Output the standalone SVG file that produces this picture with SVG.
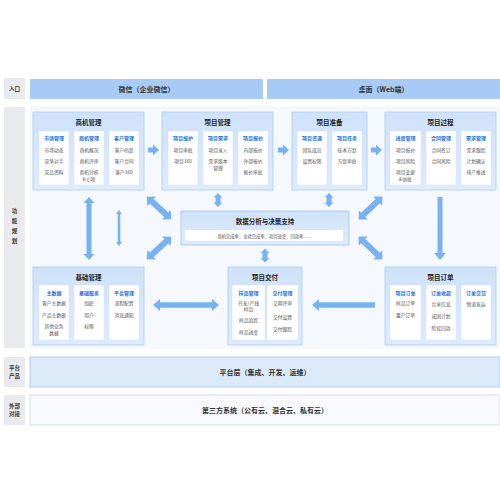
<svg xmlns="http://www.w3.org/2000/svg" width="500" height="500" viewBox="0 0 500 500">
<style>
text{font-family:"Noto Sans CJK SC","Noto Sans",sans-serif;text-anchor:middle}
.lab{fill:#e8eaed}
.labt{font-size:5.5px;fill:#333;font-weight:bold}
.bar{fill:#a7cbf5}
.bart{font-size:7px;fill:#333;font-weight:bold}
.mod{fill:url(#mg);stroke:#a9cdf4;stroke-width:0.8}
.col{fill:#fff;stroke:#d3e4f8;stroke-width:0.5}
.mt{font-size:6.5px;fill:#222;font-weight:bold}
.h{font-size:5px;fill:#1a6fe0;font-weight:bold}
.i{font-size:4.8px;fill:#555}
.arr{fill:#78b2f3}
</style>
<defs>
<linearGradient id="mg" x1="0" y1="0" x2="0" y2="1">
<stop offset="0" stop-color="#cfe2f9"/>
<stop offset="1" stop-color="#dfebfb"/>
</linearGradient>
</defs>
<rect width="500" height="500" fill="#fff"/>

<g id="entry">
<rect class="lab" x="4" y="78" width="21" height="21"/>
<text class="labt" x="14.5" y="90.5">入口</text>
<rect class="bar" x="30" y="79" width="233" height="20"/>
<text class="bart" x="146.5" y="91.5">微信（企业微信）</text>
<rect class="bar" x="267" y="79" width="233" height="20"/>
<text class="bart" x="383.5" y="91.5">桌面（Web端）</text>
</g>

<g id="func-area">
<rect class="lab" x="4" y="107" width="21" height="241"/>
<text class="labt" x="14.5" y="213">功</text>
<text class="labt" x="14.5" y="223">能</text>
<text class="labt" x="14.5" y="233">规</text>
<text class="labt" x="14.5" y="243">划</text>
<rect x="30" y="107" width="470" height="241" fill="#f5f8fd" stroke="#e8eef7" stroke-width="0.5"/>
</g>

<g id="m-shangji">
<rect class="mod" x="33" y="112" width="111" height="78"/>
<text class="mt" x="88.5" y="125">商机管理</text>
<rect class="col" x="39" y="131" width="30" height="54"/>
<rect class="col" x="74" y="131" width="30" height="54"/>
<rect class="col" x="109" y="131" width="30" height="54"/>
<text class="h" x="54" y="140">市场管理</text>
<text class="i" x="54" y="152">市场动态</text>
<text class="i" x="54" y="163">竞争对手</text>
<text class="i" x="54" y="174">竞品资料</text>
<text class="h" x="89" y="140">商机管理</text>
<text class="i" x="89" y="152">商机概况</text>
<text class="i" x="89" y="163">商机评审</text>
<text class="i" x="89" y="174">商机分析</text>
<text class="i" x="89" y="181">&amp;立项</text>
<text class="h" x="124" y="140">客户管理</text>
<text class="i" x="124" y="152">客户档案</text>
<text class="i" x="124" y="163">客户合同</text>
<text class="i" x="124" y="174">客户360</text>
</g>

<g id="m-xiangmu">
<rect class="mod" x="162" y="112" width="111" height="78"/>
<text class="mt" x="217.5" y="125">项目管理</text>
<rect class="col" x="168" y="131" width="30" height="54"/>
<rect class="col" x="203" y="131" width="30" height="54"/>
<rect class="col" x="238" y="131" width="30" height="54"/>
<text class="h" x="183" y="140">项目维护</text>
<text class="i" x="183" y="152">项目审批</text>
<text class="i" x="183" y="163">项目360</text>
<text class="h" x="218" y="140">项目需求</text>
<text class="i" x="218" y="152">项目录入</text>
<text class="i" x="218" y="163">需求版本</text>
<text class="i" x="218" y="170">管理</text>
<text class="h" x="253" y="140">项目报价</text>
<text class="i" x="253" y="152">内部报价</text>
<text class="i" x="253" y="163">外部报价</text>
<text class="i" x="253" y="174">报价审批</text>
</g>

<g id="m-zhunbei">
<rect class="mod" x="292" y="112" width="75" height="78"/>
<text class="mt" x="329.5" y="125">项目准备</text>
<rect class="col" x="297" y="131" width="30" height="54"/>
<rect class="col" x="332" y="131" width="30" height="54"/>
<text class="h" x="312" y="140">项目资源</text>
<text class="i" x="312" y="152">团队成员</text>
<text class="i" x="312" y="163">设置权限</text>
<text class="h" x="347" y="140">项目任务</text>
<text class="i" x="347" y="152">技术方案</text>
<text class="i" x="347" y="163">方案审批</text>
</g>

<g id="m-guocheng">
<rect class="mod" x="385" y="112" width="111" height="78"/>
<text class="mt" x="440.5" y="125">项目过程</text>
<rect class="col" x="390" y="131" width="31" height="54"/>
<rect class="col" x="426" y="131" width="30" height="54"/>
<rect class="col" x="461" y="131" width="30" height="54"/>
<text class="h" x="405.5" y="140">进度管理</text>
<text class="i" x="405.5" y="152">项目报价</text>
<text class="i" x="405.5" y="163">项目风险</text>
<text class="i" x="405.5" y="174">项目变更</text>
<text class="i" x="405.5" y="181">&amp;协批</text>
<text class="h" x="441" y="140">合同管理</text>
<text class="i" x="441" y="152">合同签订</text>
<text class="i" x="441" y="163">合同风险</text>
<text class="h" x="476" y="140">需求管理</text>
<text class="i" x="476" y="152">需求跟踪</text>
<text class="i" x="476" y="163">计划确认</text>
<text class="i" x="476" y="174">排产推进</text>
</g>

<g id="m-center">
<rect x="181" y="211" width="168" height="34" fill="url(#mg)" stroke="#9ec6f2" stroke-width="0.8"/>
<text class="mt" x="265" y="224">数据分析与决策支持</text>
<rect x="185" y="230" width="158" height="11" fill="#fff"/>
<text class="i" x="264" y="237.5" style="font-size:4.3px">商机完成率、业绩完成率、项目进度、回款率......</text>
</g>

<g id="m-jichu">
<rect class="mod" x="33" y="267" width="111" height="78"/>
<text class="mt" x="88.5" y="280">基础管理</text>
<rect class="col" x="39" y="285" width="30" height="55"/>
<rect class="col" x="74" y="285" width="30" height="55"/>
<rect class="col" x="109" y="285" width="30" height="55"/>
<text class="h" x="54" y="295">主数据</text>
<text class="i" x="54" y="305">客户主数据</text>
<text class="i" x="54" y="317">产品主数据</text>
<text class="i" x="54" y="328">其他业务</text>
<text class="i" x="54" y="335">数据</text>
<text class="h" x="89" y="295">基础服务</text>
<text class="i" x="89" y="305">组织</text>
<text class="i" x="89" y="317">用户</text>
<text class="i" x="89" y="328">权限</text>
<text class="h" x="124" y="295">平台管理</text>
<text class="i" x="124" y="305">流程配置</text>
<text class="i" x="124" y="317">消息通知</text>
</g>

<g id="m-jiaofu">
<rect class="mod" x="228" y="267" width="74" height="78"/>
<text class="mt" x="265" y="280">项目交付</text>
<rect class="col" x="232" y="285" width="33" height="55"/>
<rect class="col" x="267" y="285" width="31" height="55"/>
<text class="h" x="248.5" y="295">样品管理</text>
<text class="i" x="248.5" y="305">开发/产线</text>
<text class="i" x="248.5" y="311">样品</text>
<text class="i" x="248.5" y="322">样品追踪</text>
<text class="i" x="248.5" y="334">样品进度</text>
<text class="h" x="282.5" y="295">交付管理</text>
<text class="i" x="282.5" y="305">交期评审</text>
<text class="i" x="282.5" y="319">交付设置</text>
<text class="i" x="282.5" y="331">交付跟踪</text>
</g>

<g id="m-dingdan">
<rect class="mod" x="385" y="267" width="111" height="78"/>
<text class="mt" x="440.5" y="280">项目订单</text>
<rect class="col" x="390" y="285" width="31" height="55"/>
<rect class="col" x="426" y="285" width="30" height="55"/>
<rect class="col" x="461" y="285" width="30" height="55"/>
<text class="h" x="405.5" y="295">项目订单</text>
<text class="i" x="405.5" y="305">样品订单</text>
<text class="i" x="405.5" y="317">量产订单</text>
<text class="h" x="441" y="295">订单收款</text>
<text class="i" x="441" y="306">共享信息</text>
<text class="i" x="441" y="318">成团计划</text>
<text class="i" x="441" y="330">阶段回款</text>
<text class="h" x="476" y="295">订单交货</text>
<text class="i" x="476" y="306">物流发运</text>
</g>

<g id="connectors">
<!-- left big vertical double -->
<polygon class="arr" transform="translate(89,228.5) rotate(90)" points="-31.5,0 -25.5,-5.5 -25.5,-2.5 25.5,-2.5 25.5,-5.5 31.5,0 25.5,5.5 25.5,2.5 -25.5,2.5 -25.5,5.5"/>
<!-- thin vertical double -->
<polygon class="arr" transform="translate(119,228) rotate(90)" points="-18,0 -14,-3 -14,-1.3 14,-1.3 14,-3 18,0 14,3 14,1.3 -14,1.3 -14,3"/>
<!-- diagonals -->
<polygon class="arr" transform="translate(159,208) rotate(42.5)" points="-16.5,0 -10,-6.5 -10,-3 10,-3 10,-6.5 16.5,0 10,6.5 10,3 -10,3 -10,6.5"/>
<polygon class="arr" transform="translate(159,248) rotate(-42.5)" points="-16.5,0 -10,-6.5 -10,-3 10,-3 10,-6.5 16.5,0 10,6.5 10,3 -10,3 -10,6.5"/>
<polygon class="arr" transform="translate(370.5,208) rotate(-43.7)" points="-16.5,0 -10,-6.5 -10,-3 10,-3 10,-6.5 16.5,0 10,6.5 10,3 -10,3 -10,6.5"/>
<polygon class="arr" transform="translate(370.5,248) rotate(43.7)" points="-16.5,0 -10,-6.5 -10,-3 10,-3 10,-6.5 16.5,0 10,6.5 10,3 -10,3 -10,6.5"/>
<!-- small verticals -->
<polygon class="arr" transform="translate(218,200) rotate(90)" points="-7,0 -2.5,-4.5 -2.5,-2.5 2.5,-2.5 2.5,-4.5 7,0 2.5,4.5 2.5,2.5 -2.5,2.5 -2.5,4.5"/>
<polygon class="arr" transform="translate(329,200) rotate(90)" points="-7,0 -2.5,-4.5 -2.5,-2.5 2.5,-2.5 2.5,-4.5 7,0 2.5,4.5 2.5,2.5 -2.5,2.5 -2.5,4.5"/>
<polygon class="arr" transform="translate(265,255.5) rotate(90)" points="-7,0 -2.5,-4.5 -2.5,-2.5 2.5,-2.5 2.5,-4.5 7,0 2.5,4.5 2.5,2.5 -2.5,2.5 -2.5,4.5"/>
<!-- right vertical down -->
<polygon class="arr" points="437.5,197 442.5,197 442.5,253 446,253 440,260 434,253 437.5,253"/>
<!-- top row right arrows -->
<polygon class="arr" points="148,147.5 153,147.5 153,144.5 159,150 153,155.5 153,152.5 148,152.5"/>
<polygon class="arr" points="278,147.5 283,147.5 283,144.5 289,150 283,155.5 283,152.5 278,152.5"/>
<polygon class="arr" points="371,147.5 376,147.5 376,144.5 382,150 376,155.5 376,152.5 371,152.5"/>
<!-- bottom row -->
<polygon class="arr" transform="translate(186,305)" points="-33,0 -26,-6 -26,-2.8 26,-2.8 26,-6 33,0 26,6 26,2.8 -26,2.8 -26,6"/>
<polygon class="arr" points="375,302.2 319,302.2 319,299 312,305 319,311 319,307.8 375,307.8"/>
</g>

<g id="platform">
<rect class="lab" x="4" y="357" width="21" height="30"/>
<text class="labt" x="14.5" y="370">平台</text>
<text class="labt" x="14.5" y="378">产品</text>
<rect x="30" y="357" width="470" height="30" fill="#dce9f8" stroke="#9cc5f2" stroke-width="0.8"/>
<text class="bart" x="265" y="374.5">平台层（集成、开发、运维）</text>
</g>

<g id="external">
<rect class="lab" x="4" y="395" width="21" height="30"/>
<text class="labt" x="14.5" y="408">外部</text>
<text class="labt" x="14.5" y="416">对接</text>
<rect x="30" y="395" width="470" height="30" fill="#f7f9fd" stroke="#c3dbf6" stroke-width="0.8"/>
<text class="bart" x="265" y="412.5">第三方系统（公有云、混合云、私有云）</text>
</g>
</svg>
